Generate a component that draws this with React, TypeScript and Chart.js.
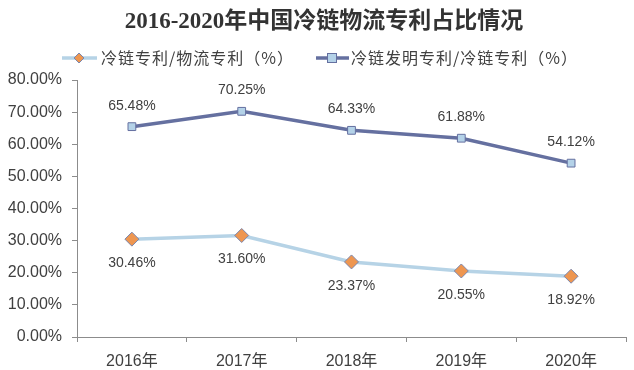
import React, { useEffect, useRef } from "react";
import { Chart, registerables } from "chart.js";

Chart.register(...registerables);

const TITLE = "2016-2020年中国冷链物流专利占比情况";
const CATEGORIES = ["2016年", "2017年", "2018年", "2019年", "2020年"];
const SERIES1_NAME = "冷链专利/物流专利（%）";
const SERIES1 = [30.46, 31.6, 23.37, 20.55, 18.92];
const SERIES2_NAME = "冷链发明专利/冷链专利（%）";
const SERIES2 = [65.48, 70.25, 64.33, 61.88, 54.12];

const C1_LINE = "#b6d3e6";
const C1_POINT = "#ee9650";
const C1_BORDER = "#7b86ad";
const C2_LINE = "#6570a0";
const C2_POINT = "#b4d2e8";
const C2_BORDER = "#6570a0";
const TEXT = "#404040";
const SANS = "'Liberation Sans', Arial, 'Noto Sans CJK SC', sans-serif";
const CJK = "'Noto Sans CJK SC', sans-serif";

function drawDiamond(ctx: CanvasRenderingContext2D, x: number, y: number, r: number) {
  ctx.beginPath();
  ctx.moveTo(x, y - r);
  ctx.lineTo(x + r, y);
  ctx.lineTo(x, y + r);
  ctx.lineTo(x - r, y);
  ctx.closePath();
  ctx.fillStyle = C1_POINT;
  ctx.fill();
  ctx.lineWidth = 1;
  ctx.strokeStyle = C1_BORDER;
  ctx.stroke();
}
function drawSquare(ctx: CanvasRenderingContext2D, x: number, y: number, r: number) {
  ctx.fillStyle = C2_POINT;
  ctx.fillRect(x - r, y - r, 2 * r, 2 * r);
  ctx.lineWidth = 1;
  ctx.strokeStyle = C2_BORDER;
  ctx.strokeRect(x - r + 0.5, y - r + 0.5, 2 * r - 1, 2 * r - 1);
}

const decorPlugin = {
  id: "decor",
  afterDraw(chart: any) {
    const ctx: any = chart.ctx;
    ctx.save();
    // title
    ctx.fillStyle = "#333333";
    ctx.font = "bold 23px 'Liberation Serif', 'Noto Sans CJK SC', serif";
    ctx.textAlign = "center";
    ctx.textBaseline = "middle";
    ctx.fillText(TITLE, 324, 22);

    // legend
    const ly = 58;
    ctx.lineWidth = 3.5;
    ctx.strokeStyle = C1_LINE;
    ctx.beginPath();
    ctx.moveTo(62, ly);
    ctx.lineTo(97, ly);
    ctx.stroke();
    drawDiamond(ctx, 79, ly, 5);
    ctx.font = `16px ${CJK}`;
    ctx.letterSpacing = "1px";
    ctx.fillStyle = TEXT;
    ctx.textAlign = "left";
    ctx.fillText(SERIES1_NAME, 101, ly);

    ctx.lineWidth = 3.5;
    ctx.strokeStyle = C2_LINE;
    ctx.beginPath();
    ctx.moveTo(316, ly);
    ctx.lineTo(349, ly);
    ctx.stroke();
    drawSquare(ctx, 332, ly, 5);
    ctx.fillStyle = TEXT;
    ctx.fillText(SERIES2_NAME, 351, ly);
    ctx.letterSpacing = "0px";

    // data labels
    ctx.font = `14px ${SANS}`;
    ctx.textAlign = "center";
    ctx.fillStyle = TEXT;
    const m1 = chart.getDatasetMeta(0);
    m1.data.forEach((p: any, i: number) => {
      ctx.fillText(SERIES1[i].toFixed(2) + "%", p.x, p.y + 24);
    });
    const m2 = chart.getDatasetMeta(1);
    m2.data.forEach((p: any, i: number) => {
      ctx.fillText(SERIES2[i].toFixed(2) + "%", p.x, p.y - 21);
    });
    ctx.restore();
  },
};

export default function App() {
  const ref = useRef<HTMLCanvasElement>(null);
  useEffect(() => {
    document.body.style.margin = "0";
    const canvas = ref.current!;
    const chart = new Chart(canvas, {
      type: "line",
      data: {
        labels: CATEGORIES,
        datasets: [
          {
            label: SERIES1_NAME,
            data: SERIES1,
            borderColor: C1_LINE,
            borderWidth: 3.5,
            pointStyle: "rectRot",
            pointRadius: 7,
            pointBackgroundColor: C1_POINT,
            pointBorderColor: C1_BORDER,
            pointBorderWidth: 1,
            tension: 0,
          },
          {
            label: SERIES2_NAME,
            data: SERIES2,
            borderColor: C2_LINE,
            borderWidth: 3.5,
            pointStyle: "rect",
            pointRadius: 5.5,
            pointBackgroundColor: C2_POINT,
            pointBorderColor: C2_BORDER,
            pointBorderWidth: 1,
            tension: 0,
          },
        ],
      },
      options: {
        animation: false,
        responsive: false,
        maintainAspectRatio: false,
        layout: { padding: { top: 80, left: 0, right: 2, bottom: 0 } },
        plugins: {
          legend: { display: false },
          title: { display: false },
          tooltip: { enabled: false },
        },
        scales: {
          x: {
            offset: true,
            grid: {
              offset: true,
              drawOnChartArea: false,
              drawTicks: true,
              tickLength: 5,
              color: "#8c8c8c",
            },
            border: { color: "#8c8c8c", width: 1 },
            ticks: {
              color: TEXT,
              font: { size: 16, family: SANS },
              padding: 10,
            },
            afterFit: (s: any) => {
              s.height = 33;
            },
          },
          y: {
            min: 0,
            max: 80,
            grid: {
              drawOnChartArea: false,
              drawTicks: true,
              tickLength: 5,
              color: "#8c8c8c",
            },
            border: { color: "#8c8c8c", width: 1 },
            ticks: {
              stepSize: 10,
              color: TEXT,
              font: { size: 16, family: SANS },
              padding: 10,
              callback: (v: any) => Number(v).toFixed(2) + "%",
            },
            afterFit: (s: any) => {
              s.width = 77;
            },
          },
        },
      },
      plugins: [decorPlugin],
    });
    return () => chart.destroy();
  }, []);
  return (
    <div style={{ position: "absolute", left: 0, top: 0, width: 634, height: 370 }}>
      <canvas ref={ref} width={634} height={370} style={{ width: 634, height: 370, display: "block" }} />
    </div>
  );
}
